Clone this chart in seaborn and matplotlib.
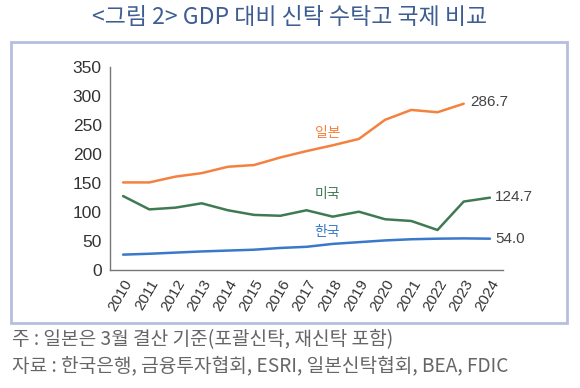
import matplotlib
matplotlib.use("Agg")
import matplotlib.pyplot as plt
from matplotlib.patches import Rectangle
import seaborn as sns
import pandas as pd
import numpy as np

sns.set_style("white")
plt.rcParams["font.family"] = ["Liberation Sans", "Noto Sans CJK KR", "DejaVu Sans"]

# data (GDP 대비 신탁 수탁고, %)
years = list(range(2010, 2025))
japan = [151, 151, 161, 167, 178, 181, 194, 205, 215, 226, 259, 276, 272, 286.7, np.nan]
usa = [127.5, 104.5, 107.5, 115, 103, 95, 93.5, 103, 92, 100.5, 87.5, 84.5, 69, 118, 124.7]
korea = [26.5, 28, 30, 32, 33.5, 35, 38, 40, 45, 48, 51, 53, 54, 54.5, 54.0]

title = "<그림 2> GDP 대비 신탁 수탁고 국제 비교"
note = "주 : 일본은 3월 결산 기준(포괄신탁, 재신탁 포함)"
source = "자료 : 한국은행, 금융투자협회, ESRI, 일본신탁협회, BEA, FDIC"

c_japan = "#f5813f"
c_usa = "#3f7a52"
c_korea = "#3a78c9"
kr = ["Noto Sans CJK KR", "DejaVu Sans"]

df = pd.DataFrame({"year": years, "일본": japan, "미국": usa, "한국": korea})

fig = plt.figure(figsize=(5.8, 3.88), dpi=100)
ax = fig.add_axes([110 / 580, 1 - 270 / 388, 393 / 580, 203 / 388])

sns.lineplot(data=df, x="year", y="일본", color=c_japan, linewidth=1.8, ax=ax)
sns.lineplot(data=df, x="year", y="미국", color=c_usa, linewidth=1.8, ax=ax)
sns.lineplot(data=df, x="year", y="한국", color=c_korea, linewidth=1.8, ax=ax)

ax.set_xlim(2009.5, 2024.5)
ax.set_ylim(0, 350)
ax.set_yticks(range(0, 351, 50))
ax.set_xticks(years)
ax.set_xticklabels([str(y) for y in years], rotation=60, ha="right",
                   rotation_mode="anchor", fontsize=11, color="#333333")
ax.set_xticks(np.arange(2010.5, 2024.5, 1), minor=True)
ax.tick_params(axis="x", which="major", length=0, pad=5)
ax.tick_params(axis="x", which="minor", length=4, width=1, color="#777777", direction="out")
ax.tick_params(axis="y", length=0, pad=6, labelsize=12.5, labelcolor="#333333")
ax.set_xlabel("")
ax.set_ylabel("")
for s in ["top", "right"]:
    ax.spines[s].set_visible(False)
for s in ["left", "bottom"]:
    ax.spines[s].set_color("#777777")
    ax.spines[s].set_linewidth(1)

# series labels
ax.text(2017.8, 236, "일본", color=c_japan, fontsize=10, family=kr, ha="center", va="center")
ax.text(2017.8, 131, "미국", color=c_usa, fontsize=10, family=kr, ha="center", va="center")
ax.text(2017.8, 66, "한국", color=c_korea, fontsize=10, family=kr, ha="center", va="center")

# end values
ax.text(2023.25, 289, "286.7", color="#444444", fontsize=11, va="center")
ax.text(2024.2, 126, "124.7", color="#444444", fontsize=11, va="center")
ax.text(2024.2, 54, "54.0", color="#444444", fontsize=11, va="center")

# frame box
fig.patches.append(Rectangle((11 / 580, 1 - 323 / 388), 556 / 580, 281 / 388,
                             transform=fig.transFigure, fill=False,
                             edgecolor="#b6bedf", linewidth=2))

fig.text(0.5, 1 - 18 / 388, title, ha="center", va="center", fontsize=16.5,
         color="#3d5d93", family=kr)
fig.text(12 / 580, 1 - 340 / 388, note, ha="left", va="center", fontsize=13.8,
         color="#666666", family=kr)
fig.text(12 / 580, 1 - 366 / 388, source, ha="left", va="center", fontsize=13.8,
         color="#666666", family=kr)

fig.savefig("out.png", dpi=100)
